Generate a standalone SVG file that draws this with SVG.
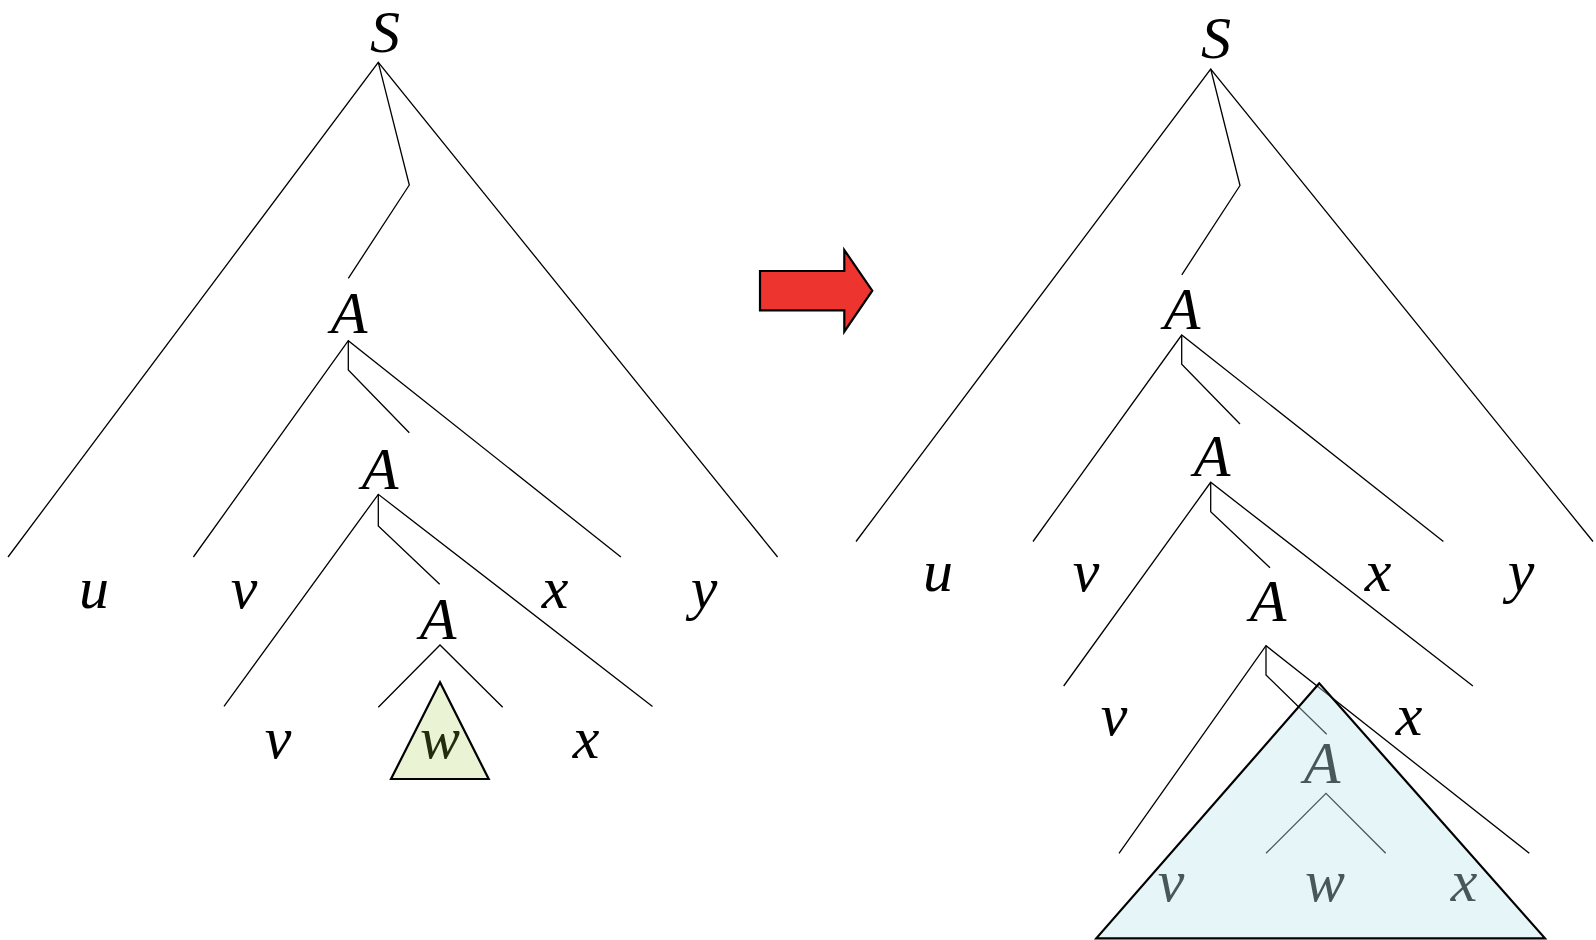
<svg xmlns="http://www.w3.org/2000/svg" width="1596" height="940" viewBox="0 0 1596 940">
<style>
.ln{fill:none;stroke:#000;stroke-width:1.3}
.tri{stroke:#000;stroke-width:2.2}
text{font-family:"Liberation Serif","Times New Roman",serif;font-style:italic;font-size:60px;text-anchor:middle;fill:#000}
</style>
<rect width="1596" height="940" fill="#fff"/>
<g id="connectors">
<polyline class="ln" points="8,557 378.3,62.3 777.6,557"/>
<polyline class="ln" points="378.3,62.3 409.3,185 348.3,278.3"/>
<polyline class="ln" points="193.4,557 348.3,340.7 620.9,557"/>
<polyline class="ln" points="348.3,340.7 348.3,370 409.3,432.7"/>
<polyline class="ln" points="224,706.4 378.3,494.3 652.5,706.4"/>
<polyline class="ln" points="378.3,494.3 378.3,526 439.7,584.3"/>
<polyline class="ln" points="378.3,707.3 440,645 502.7,707.3"/>
<polyline class="ln" points="856,541.5 1210.7,69 1593,541.5"/>
<polyline class="ln" points="1210.7,69 1240,185.5 1181.8,274.8"/>
<polyline class="ln" points="1033,541.5 1181.7,335 1443.4,541.5"/>
<polyline class="ln" points="1181.7,335 1181.7,364.3 1240,424"/>
<polyline class="ln" points="1063.7,686 1210.7,482.3 1472.9,686"/>
<polyline class="ln" points="1210.7,482.3 1210.7,511.7 1270,567.7"/>
<polyline class="ln" points="1119,853.3 1266,645.7 1529.3,853.3"/>
<polyline class="ln" points="1266,645.7 1266,675 1326.7,734.3"/>
<polyline class="ln" points="1266,853.3 1326,793.3 1385.7,853.3"/>
</g>
<g id="left-tree">
<g id="S1"><text x="385" y="52">S</text></g>
<g id="A1"><text x="349" y="333">A</text></g>
<g id="A2"><text x="380" y="489">A</text></g>
<g id="A3"><text x="438" y="639">A</text></g>
<g id="u1"><text x="94" y="608">u</text></g>
<g id="v1"><text x="244" y="608">v</text></g>
<g id="x1"><text x="555" y="608">x</text></g>
<g id="y1"><text x="704" y="608">y</text></g>
<g id="v2"><text x="278" y="758">v</text></g>
<g id="x2"><text x="586" y="758">x</text></g>
<g id="w1"><text x="440" y="758">w</text>
<polygon class="tri" points="440,682.3 391,779 488.7,779" fill="#A0CC40" fill-opacity="0.22"/></g>
</g>
<g id="arrow"><polygon points="760,271 844.3,271 844.3,250 872.3,290.7 844.3,331.7 844.3,310.3 760,310.3" fill="#EE342E" stroke="#000" stroke-width="2.2"/></g>
<g id="right-tree">
<g id="S2"><text x="1216" y="58">S</text></g>
<g id="A1R"><text x="1182" y="329">A</text></g>
<g id="A2R"><text x="1212" y="476">A</text></g>
<g id="A3R"><text x="1268" y="621">A</text></g>
<g id="u3"><text x="938" y="591">u</text></g>
<g id="v3"><text x="1086" y="591">v</text></g>
<g id="x3"><text x="1378" y="591">x</text></g>
<g id="y3"><text x="1521" y="591">y</text></g>
<g id="v4"><text x="1114" y="735">v</text></g>
<g id="x4"><text x="1409" y="735">x</text></g>
<g id="A4"><text x="1322" y="783">A</text></g>
<g id="v5"><text x="1171" y="901">v</text></g>
<g id="w5"><text x="1325" y="901">w</text></g>
<g id="x5"><text x="1464" y="901">x</text></g>
<g id="subtree"><polygon class="tri" points="1319.3,683.3 1096.3,938.3 1545,938.3" fill="#BDE5EB" fill-opacity="0.38"/></g>
</g>
</svg>
